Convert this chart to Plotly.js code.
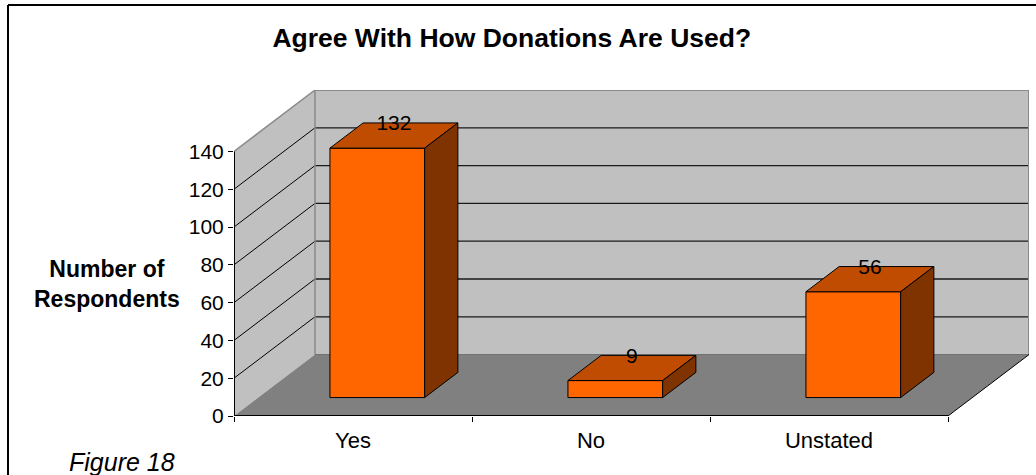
<!DOCTYPE html>
<html><head><meta charset="utf-8">
<script src="https://cdn.plot.ly/plotly-3.0.1.min.js"></script>
<style>html,body{margin:0;padding:0;background:#fff;overflow:hidden}#chart{width:1036px;height:475px}</style>
</head><body><div id="chart"></div>
<script>
// ---- data ----
const categories = ['Yes', 'No', 'Unstated'];
const respondents = [132, 9, 56];
const yTickValues = [0, 20, 40, 60, 80, 100, 120, 140];
const chartTitle = 'Agree With How Donations Are Used?';
const yAxisTitle = 'Number of<br>Respondents';
const captionText = 'Figure 18';

// ---- 3D geometry / style constants ----
const Y_MAX = 140;
const DEPTH_X = 0.3403;   // depth of the floor in category units
const DEPTH_Y = 32.5;     // depth of the floor in value units
const BAR_W = 0.398;
const BAR_START = 0.30;   // depth fraction where bar front face sits
const BAR_DEPTH = 0.41;   // depth fraction of the bar
const FONT = 'Liberation Sans, Arial, sans-serif';
const C_FRONT = '#FF6600', C_TOP = '#BF4C00', C_SIDE = '#7F3300';
const C_WALL = '#C0C0C0', C_FLOOR = '#808080', C_EDGE = '#8a8a8a';

const xs = categories.map((c, i) => i);
const nCat = categories.length;
const xL = -0.5, xR = nCat - 0.5;
const base = BAR_START * DEPTH_Y;
const shiftX = BAR_START * DEPTH_X;
const ddx = BAR_DEPTH * DEPTH_X, ddy = BAR_DEPTH * DEPTH_Y;
const offset = -BAR_W / 2 + shiftX;

const traces = [];
// front faces
traces.push({
  type: 'bar', x: xs, y: respondents, base: base, offset: offset, width: BAR_W,
  marker: {color: C_FRONT, line: {color: '#000', width: 1}},
  hoverinfo: 'skip', showlegend: false
});
// top and side faces
respondents.forEach((v, i) => {
  const x0 = i + offset, x1 = x0 + BAR_W, yT = base + v;
  traces.push({
    type: 'scatter', mode: 'lines', fill: 'toself', fillcolor: C_TOP,
    x: [x0, x1, x1 + ddx, x0 + ddx, x0], y: [yT, yT, yT + ddy, yT + ddy, yT],
    line: {color: '#000', width: 1}, hoverinfo: 'skip', showlegend: false
  });
  traces.push({
    type: 'scatter', mode: 'lines', fill: 'toself', fillcolor: C_SIDE,
    x: [x1, x1 + ddx, x1 + ddx, x1, x1], y: [base, base + ddy, yT + ddy, yT, base],
    line: {color: '#000', width: 1}, hoverinfo: 'skip', showlegend: false
  });
});
// value labels
traces.push({
  type: 'scatter', mode: 'text', xaxis: 'x2',
  x: xs.map(i => i + shiftX + ddx / 2),
  y: respondents.map(v => base + v + ddy / 2),
  text: respondents.map(String), textposition: 'top center',
  textfont: {family: FONT, size: 21, color: '#000'},
  marker: {size: 2},
  hoverinfo: 'skip', showlegend: false, cliponaxis: false
});

// ---- walls, floor, gridlines ----
const shapes = [];
const poly = (pts) => 'M' + pts.map(p => p[0] + ',' + p[1]).join('L') + 'Z';
// left wall
shapes.push({type: 'path', layer: 'below', xref: 'x', yref: 'y', fillcolor: C_WALL, line: {width: 0},
  path: poly([[xL, 0], [xL, Y_MAX], [xL + DEPTH_X, Y_MAX + DEPTH_Y], [xL + DEPTH_X, DEPTH_Y]])});
// back wall
shapes.push({type: 'path', layer: 'below', xref: 'x', yref: 'y', fillcolor: C_WALL, line: {width: 0},
  path: poly([[xL + DEPTH_X, DEPTH_Y], [xR + DEPTH_X, DEPTH_Y], [xR + DEPTH_X, Y_MAX + DEPTH_Y], [xL + DEPTH_X, Y_MAX + DEPTH_Y]])});
// floor
shapes.push({type: 'path', layer: 'below', xref: 'x', yref: 'y', fillcolor: C_FLOOR, line: {width: 0},
  path: poly([[xL, 0], [xR, 0], [xR + DEPTH_X, DEPTH_Y], [xL + DEPTH_X, DEPTH_Y]])});
// gridlines on back wall and left wall
yTickValues.forEach(v => {
  if (v === 0 || v === Y_MAX) return;
  shapes.push({type: 'line', layer: 'below', xref: 'x', yref: 'y', x0: xL + DEPTH_X, x1: xR + DEPTH_X,
    y0: v + DEPTH_Y, y1: v + DEPTH_Y, line: {color: '#1a1a1a', width: 1.3}});
  shapes.push({type: 'line', layer: 'below', xref: 'x', yref: 'y', x0: xL, x1: xL + DEPTH_X,
    y0: v, y1: v + DEPTH_Y, line: {color: '#000', width: 1}});
});
// wall edges (gray)
const edge = (x0, y0, x1, y1, color, w) => shapes.push({type: 'line', layer: 'below', xref: 'x', yref: 'y',
  x0: x0, y0: y0, x1: x1, y1: y1, line: {color: color, width: w}});
edge(xL, Y_MAX, xL + DEPTH_X, Y_MAX + DEPTH_Y, C_EDGE, 1.5);
edge(xL + DEPTH_X, Y_MAX + DEPTH_Y, xR + DEPTH_X, Y_MAX + DEPTH_Y, C_EDGE, 2);
edge(xL + DEPTH_X, DEPTH_Y, xL + DEPTH_X, Y_MAX + DEPTH_Y, C_EDGE, 1.5);
edge(xR + DEPTH_X, DEPTH_Y, xR + DEPTH_X, Y_MAX + DEPTH_Y, C_EDGE, 2);
edge(xL + DEPTH_X, DEPTH_Y, xR + DEPTH_X, DEPTH_Y, '#6e6e6e', 1);
edge(xR, 0, xR + DEPTH_X, DEPTH_Y, '#000', 1);
// front axis lines (2px centred on the clip edge -> 1px visible)
shapes.push({type: 'line', layer: 'above', xref: 'x', yref: 'y', x0: xL, x1: xR, y0: 0, y1: 0, line: {color: '#000', width: 2}});
shapes.push({type: 'line', layer: 'above', xref: 'x', yref: 'y', x0: xL, x1: xL, y0: 0, y1: Y_MAX, line: {color: '#000', width: 2}});

// outer chart border (left and top)
const L = 234, R = 7, T = 90, B = 59, W = 1036, H = 475;
const pw = W - L - R, ph = H - T - B;
const px2paper = (px) => (px - L) / pw;
const py2paper = (py) => (H - B - py) / ph;
shapes.push({type: 'line', xref: 'paper', yref: 'paper', x0: px2paper(8), x1: px2paper(8), y0: py2paper(5), y1: py2paper(480), line: {color: '#000', width: 2}});
shapes.push({type: 'line', xref: 'paper', yref: 'paper', x0: px2paper(8), x1: px2paper(1040), y0: py2paper(5), y1: py2paper(5), line: {color: '#000', width: 2}});

const layout = {
  width: W, height: H,
  margin: {l: L, r: R, t: T, b: B, pad: 0},
  paper_bgcolor: '#fff', plot_bgcolor: 'rgba(0,0,0,0)',
  showlegend: false,
  font: {family: FONT, color: '#000'},
  title: {text: chartTitle, font: {family: FONT, size: 26.5, color: '#000', weight: 'bold'},
    xref: 'container', yref: 'container', x: 0.494, y: 0.921, xanchor: 'center', yanchor: 'middle'},
  xaxis: {range: [xL, xR + DEPTH_X], showgrid: false, zeroline: false, showline: false,
    tickmode: 'array', tickvals: xs, ticktext: categories, ticks: 'outside', ticklen: 5,
    tickcolor: 'rgba(0,0,0,0)', tickfont: {family: FONT, size: 22, color: '#000'}, fixedrange: true},
  xaxis2: {range: [xL, xR + DEPTH_X], overlaying: 'x', anchor: 'y', side: 'bottom',
    showgrid: false, zeroline: false, showline: false, showticklabels: false,
    tickmode: 'array', tickvals: xs.map(i => i - 0.5).concat([xR]), ticks: 'outside', ticklen: 5,
    tickcolor: '#000', tickwidth: 1, fixedrange: true},
  yaxis: {range: [0, Y_MAX + DEPTH_Y], showgrid: false, zeroline: false, showline: false,
    tickmode: 'array', tickvals: yTickValues, ticks: 'outside', ticklen: 5, tickcolor: '#000',
    tickfont: {family: FONT, size: 21, color: '#000'}, fixedrange: true},
  shapes: shapes,
  annotations: [
    {text: yAxisTitle, xref: 'paper', yref: 'paper', x: px2paper(106.5), y: py2paper(284), xanchor: 'center', yanchor: 'middle',
      showarrow: false, align: 'center', font: {family: FONT, size: 23, color: '#000', weight: 'bold'}},
    {text: captionText, xref: 'paper', yref: 'paper', x: px2paper(67), y: py2paper(462), xanchor: 'left', yanchor: 'middle',
      showarrow: false, font: {family: FONT, size: 25, color: '#000', style: 'italic'}}
  ]
};

Plotly.newPlot('chart', traces, layout, {displayModeBar: false, staticPlot: true});
</script>
</body></html>
